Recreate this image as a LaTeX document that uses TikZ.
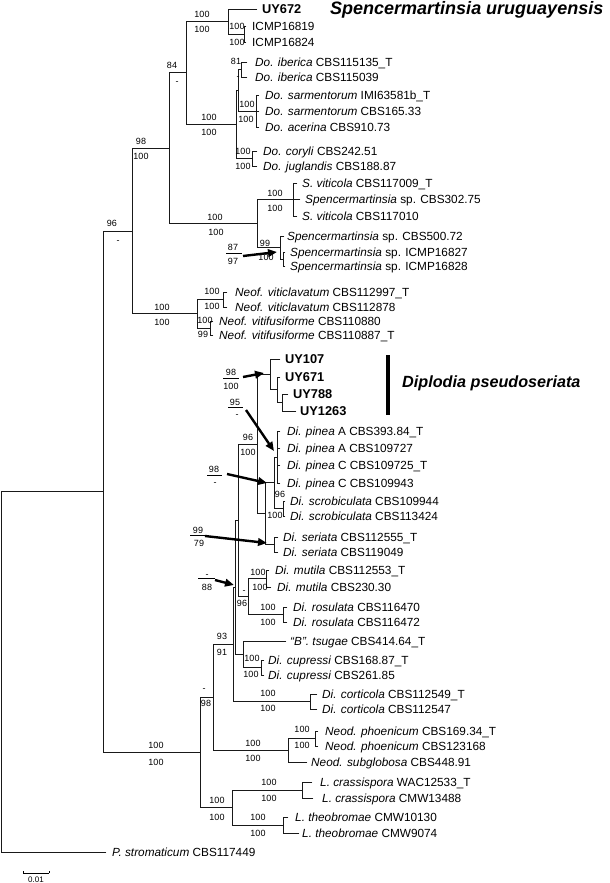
\documentclass[tikz,border=0pt]{standalone}
\usepackage{fontspec}
\setmainfont{Liberation Sans}
\usetikzlibrary{arrows.meta}
\newcommand\leafnode[6]{%
  \coordinate (#1) at (#3,#5);
  \draw[br] (#2) |- (#1);
  \node[leaf] (#1t) at (#4,#5+4.2) {#6};}
\newcommand\tedge[2]{\draw[br] (#1) |- (#2);}
\newcommand\supgroup[9]{% name, x top, y top, text top, bar x1, bar x2, bar y, x bottom/y bottom/text bottom
  \node[sup] (#1a) at (#2,#3+3.2) {#4};
  \coordinate (#1l) at (#5,#7);
  \coordinate (#1r) at (#6,#7);
  \draw[bar] (#1l) -- (#1r);
  \node[sup] (#1b) at (#8) {#9};}
\begin{document}
\begin{tikzpicture}[x=1pt,y=-1pt,
 br/.style={line width=0.9pt,line cap=rect,draw=black!90},
 leaf/.style={anchor=base west,inner sep=0pt,font=\fontsize{11.8}{13}\selectfont},
 sup/.style={anchor=base,inner sep=0pt,font=\fontsize{9}{10}\selectfont},
 arr/.style={line width=2.4pt,-{Triangle[length=9pt,width=7.5pt]}},
 bar/.style={line width=0.8pt},
 big/.style={anchor=base west,inner sep=0pt,font=\fontsize{18}{20}\selectfont\bfseries\itshape}]
\useasboundingbox (0,0) rectangle (610,883);
% internal nodes
\coordinate (root) at (1,671.9);
\coordinate (A) at (103,491.8);
\coordinate (n96) at (132,231);
\coordinate (n98) at (169,148.2);
\coordinate (n84) at (186,72.9);
\coordinate (suru) at (228,21.5);
\coordinate (icmp) at (244,34);
\coordinate (doth) at (236,124.3);
\coordinate (x1) at (238,90);
\coordinate (iber) at (241,69.5);
\coordinate (sarm) at (256,111);
\coordinate (cory) at (252,158.5);
\coordinate (spenc) at (257,223.5);
\coordinate (svit) at (293,199.5);
\coordinate (s500) at (280,247.5);
\coordinate (icmp2) at (283,259);
\coordinate (neof) at (197,313.8);
\coordinate (vcl) at (223,299.5);
\coordinate (vfu) at (210,328);
\coordinate (nB) at (200,752.4);
\coordinate (nD) at (213,697.3);
\coordinate (n93) at (233,644.3);
\coordinate (n88) at (235,587);
\coordinate (core) at (238,520.3);
\coordinate (n96b) at (257,444);
\coordinate (uy) at (270,374.4);
\coordinate (uy2) at (277,389.8);
\coordinate (uy3) at (282,402.5);
\coordinate (n265) at (265,513.6);
\coordinate (pinsc) at (274,482.8);
\coordinate (pin) at (277,457);
\coordinate (scr) at (283,508.5);
\coordinate (ser) at (274,544.5);
\coordinate (mr) at (248,596.5);
\coordinate (mut) at (266,578.5);
\coordinate (ros) at (283,614.5);
\coordinate (tcu) at (243,654);
\coordinate (cup) at (261,667.5);
\coordinate (cort) at (310,701.5);
\coordinate (neod) at (288,750.3);
\coordinate (nph) at (315,738.5);
\coordinate (lasio) at (232,807.5);
\coordinate (lcr) at (302,790);
\coordinate (lth) at (283,825);
% internal edges
\tedge{root}{A}
\tedge{A}{n96} \tedge{A}{nB}
\tedge{n96}{n98} \tedge{n96}{neof}
\tedge{n98}{n84} \tedge{n98}{spenc}
\tedge{n84}{suru} \tedge{n84}{doth}
\tedge{suru}{icmp}
\tedge{doth}{x1} \tedge{doth}{cory}
\tedge{x1}{iber} \tedge{x1}{sarm}
\tedge{spenc}{svit} \tedge{spenc}{s500}
\tedge{s500}{icmp2}
\tedge{neof}{vcl} \tedge{neof}{vfu}
\tedge{nB}{nD} \tedge{nB}{lasio}
\tedge{nD}{n93} \tedge{nD}{neod}
\tedge{n93}{n88} \tedge{n93}{cort}
\tedge{n88}{core} \tedge{n88}{tcu}
\tedge{core}{n96b} \tedge{core}{mr}
\tedge{n96b}{uy} \tedge{n96b}{n265}
\tedge{uy}{uy2} \tedge{uy2}{uy3}
\tedge{n265}{pinsc} \tedge{n265}{ser}
\tedge{pinsc}{pin} \tedge{pinsc}{scr}
\tedge{mr}{mut} \tedge{mr}{ros}
\tedge{tcu}{cup}
\tedge{neod}{nph}
\tedge{lasio}{lcr} \tedge{lasio}{lth}
% leaves
\leafnode{l1}{suru}{257}{262}{9}{\fontsize{12.8}{14}\selectfont\bfseries UY672}
\leafnode{l2}{icmp}{246}{252}{26}{ICMP16819}
\leafnode{l3}{icmp}{246}{252}{42}{ICMP16824}
\leafnode{l4}{iber}{247}{255}{62}{\textit{Do. iberica} CBS115135\_T}
\leafnode{l5}{iber}{247}{255}{77}{\textit{Do. iberica} CBS115039}
\leafnode{l6}{sarm}{259}{265}{95}{\textit{Do. sarmentorum} IMI63581b\_T}
\leafnode{l7}{sarm}{259}{265}{111}{\textit{Do. sarmentorum} CBS165.33}
\leafnode{l8}{sarm}{259}{265}{127}{\textit{Do. acerina} CBS910.73}
\leafnode{l9}{cory}{257}{263}{151}{\textit{Do. coryli} CBS242.51}
\leafnode{l10}{cory}{257}{263}{166}{\textit{Do. juglandis} CBS188.87}
\leafnode{l11}{svit}{297}{302}{183}{\textit{S. viticola} CBS117009\_T}
\leafnode{l12}{svit}{300}{305}{199}{\textit{Spencermartinsia} sp. CBS302.75}
\leafnode{l13}{svit}{297}{302}{216}{\textit{S. viticola} CBS117010}
\leafnode{l14}{s500}{284}{287}{236}{\textit{Spencermartinsia} sp. CBS500.72}
\leafnode{l15}{icmp2}{285}{290}{252}{\textit{Spencermartinsia} sp. ICMP16827}
\leafnode{l16}{icmp2}{285}{290}{266}{\textit{Spencermartinsia} sp. ICMP16828}
\leafnode{l17}{vcl}{227}{235}{292}{\textit{Neof. viticlavatum} CBS112997\_T}
\leafnode{l18}{vcl}{227}{235}{307}{\textit{Neof. viticlavatum} CBS112878}
\leafnode{l19}{vfu}{213}{219}{321}{\textit{Neof. vitifusiforme} CBS110880}
\leafnode{l20}{vfu}{213}{219}{335}{\textit{Neof. vitifusiforme} CBS110887\_T}
\leafnode{l21}{uy}{280}{285}{359}{\fontsize{12.8}{14}\selectfont\bfseries UY107}
\leafnode{l22}{uy2}{280}{285}{377}{\fontsize{12.8}{14}\selectfont\bfseries UY671}
\leafnode{l23}{uy3}{288}{293}{394}{\fontsize{12.8}{14}\selectfont\bfseries UY788}
\leafnode{l24}{uy3}{296}{300}{411}{\fontsize{12.8}{14}\selectfont\bfseries UY1263}
\leafnode{l25}{pin}{280}{287}{431}{\textit{Di. pinea} A CBS393.84\_T}
\leafnode{l26}{pin}{280}{287}{448}{\textit{Di. pinea} A CBS109727}
\leafnode{l27}{pin}{280}{287}{465}{\textit{Di. pinea} C CBS109725\_T}
\leafnode{l28}{pin}{280}{287}{483}{\textit{Di. pinea} C CBS109943}
\leafnode{l29}{scr}{285}{290}{501}{\textit{Di. scrobiculata} CBS109944}
\leafnode{l30}{scr}{285}{290}{516}{\textit{Di. scrobiculata} CBS113424}
\leafnode{l31}{ser}{278}{283}{537}{\textit{Di. seriata} CBS112555\_T}
\leafnode{l32}{ser}{278}{283}{552}{\textit{Di. seriata} CBS119049}
\leafnode{l33}{mut}{269}{275}{570}{\textit{Di. mutila} CBS112553\_T}
\leafnode{l34}{mut}{271}{277}{587}{\textit{Di. mutila} CBS230.30}
\leafnode{l35}{ros}{287}{293}{607}{\textit{Di. rosulata} CBS116470}
\leafnode{l36}{ros}{287}{293}{622}{\textit{Di. rosulata} CBS116472}
\leafnode{l37}{tcu}{286}{290}{641}{\textit{“B”. tsugae} CBS414.64\_T}
\leafnode{l38}{cup}{264}{268}{660}{\textit{Di. cupressi} CBS168.87\_T}
\leafnode{l39}{cup}{264}{268}{675}{\textit{Di. cupressi} CBS261.85}
\leafnode{l40}{cort}{317}{322}{694}{\textit{Di. corticola} CBS112549\_T}
\leafnode{l41}{cort}{317}{322}{709}{\textit{Di. corticola} CBS112547}
\leafnode{l42}{nph}{318}{325}{731}{\textit{Neod. phoenicum} CBS169.34\_T}
\leafnode{l43}{nph}{318}{325}{746}{\textit{Neod. phoenicum} CBS123168}
\leafnode{l44}{neod}{307}{311}{762}{\textit{Neod. subglobosa} CBS448.91}
\leafnode{l45}{lcr}{312}{320}{782}{\textit{L. crassispora} WAC12533\_T}
\leafnode{l46}{lcr}{313}{322}{798}{\textit{L. crassispora} CMW13488}
\leafnode{l47}{lth}{288}{295}{817}{\textit{L. theobromae} CMW10130}
\leafnode{l48}{lth}{299}{302}{833}{\textit{L. theobromae} CMW9074}
\leafnode{l49}{root}{106}{112}{852}{\textit{P. stromaticum} CBS117449}
% support values
\foreach \x/\y/\t [count=\i] in {202/14/100,202/29/100,237/26/100,237/42/100,
  172/65/84,177/81/-,236/61/81,238/76/-,209/117/100,209/132/100,
  247/104/100,246/119/100,243/151/100,243/166/100,141/141/98,141/156/100,
  215/217/100,216/232/100,275/193/100,275/208/100,265/243/99,266/257/100,
  112/223/96,118/240/-,162/307/100,162/322/100,212/291/100,212/306/100,
  205/320/100,203/334/99,248/437/96,248/452/100,280/494/96,275/515/100,
  258/572/100,260/587/100,244/590/-,242/603/96,268/607/100,268/622/100,
  222/636/93,222/652/91,252/658/100,251/674/100,204/688/-,206/703/98,
  268/693/100,268/708/100,302/729/100,302/745/100,253/743/100,253/758/100,
  156/745/100,156/762/100,269/782/100,269/798/100,217/800/100,217/817/100,
  258/817/100,258/833/100}
  \node[sup] (s\i) at (\x,\y+3.2) {\t};
% boxed-off support values with arrows
\supgroup{g1}{233}{247}{87}{226}{242}{253}{233,264.2}{97}
\coordinate (g1s) at (243,256); \coordinate (g1e) at (277,252);
\draw[arr] (g1s) -- (g1e);
\supgroup{g2}{231}{372}{98}{223}{239}{378}{231,389.2}{100}
\coordinate (g2s) at (243,377); \coordinate (g2e) at (264,373);
\draw[arr] (g2s) -- (g2e);
\supgroup{g3}{235}{402}{95}{228}{243}{407}{237,417.2}{-}
\coordinate (g3s) at (246,410); \coordinate (g3e) at (274,451);
\draw[arr] (g3s) -- (g3e);
\supgroup{g4}{214}{469}{98}{207}{222}{475}{215,485.2}{-}
\coordinate (g4s) at (227,474); \coordinate (g4e) at (267,483);
\draw[arr] (g4s) -- (g4e);
\supgroup{g5}{198}{530}{99}{190}{205}{535}{199,546.2}{79}
\coordinate (g5s) at (205,536); \coordinate (g5e) at (267,543);
\draw[arr] (g5s) -- (g5e);
\supgroup{g6}{207}{574}{-}{198}{215}{578}{207,590.2}{88}
\coordinate (g6s) at (215,580); \coordinate (g6e) at (234,585);
\draw[arr] (g6s) -- (g6e);
% species labels
\node[big] (suru-t) at (330,15) {Spencermartinsia uruguayensis};
\fill (386,355) rectangle (390,415);
\node[big,font=\fontsize{16.2}{18}\selectfont\bfseries\itshape] (dips-t) at (402,387) {Diplodia pseudoseriata};
% scale bar
\coordinate (sb1) at (23,873); \coordinate (sb2) at (49,873);
\draw[line width=0.8pt] (sb1) -- (sb2);
\draw[line width=0.8pt] (sb1) -- ++(0,-2.5) (sb2) -- ++(0,-2.5);
\node[sup,font=\fontsize{8}{9}\selectfont] (sbt) at (36,882) {0.01};
\end{tikzpicture}
\end{document}
